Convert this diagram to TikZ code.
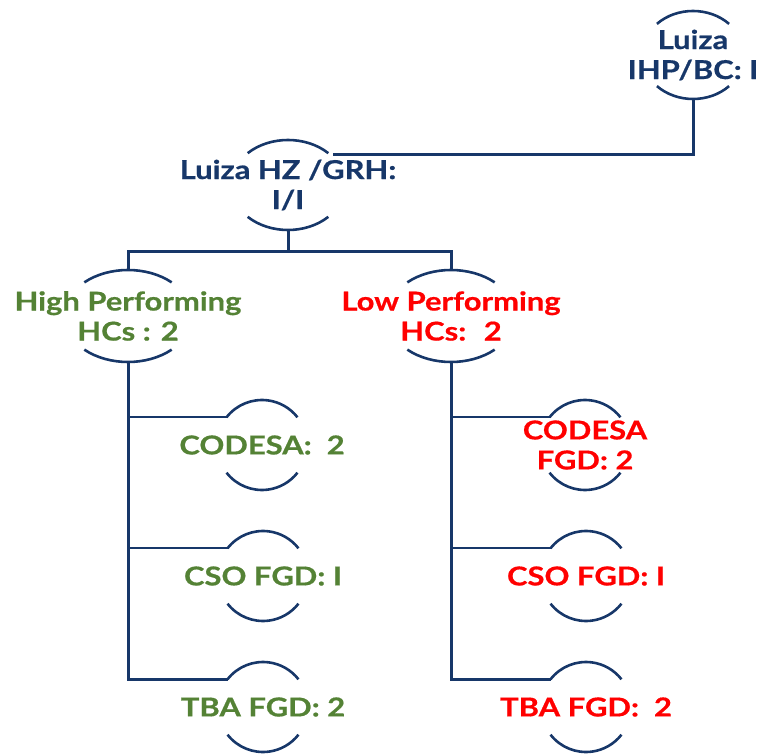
\documentclass[tikz,border=0pt]{standalone}
\usepackage{fontspec}
\setmainfont{Lato}[BoldFeatures={FakeStretch=1.19, FakeBold=0.6}]
\usetikzlibrary{positioning}
\usetikzlibrary{calc}
\definecolor{navy}{RGB}{23,55,105}
\definecolor{hpgreen}{RGB}{84,130,53}
\definecolor{lpred}{RGB}{255,0,0}
% arcs above and below a node: name, x radius, y radius, angle
\newcommand{\orgarcs}[4]{%
    \draw[arcline] ([shift={(180-#4:#2pt and #3pt)}]#1.center) coordinate (#1-tl)
        arc[start angle=180-#4, end angle=#4, x radius=#2pt, y radius=#3pt];
    \draw[arcline] ([shift={(180+#4:#2pt and #3pt)}]#1.center)
        arc[start angle=180+#4, end angle=360-#4, x radius=#2pt, y radius=#3pt];
    \coordinate (#1-top) at ([yshift=#3pt]#1.center);
    \coordinate (#1-bot) at ([yshift=-#3pt]#1.center);
}
\tikzset{
    arcline/.style={draw=navy, line width=2.6pt},
    link/.style={draw=navy, line width=3pt},
    branch/.style={draw=navy, line width=2.2pt},
    box/.style={align=center, inner sep=0pt, font=\bfseries\fontsize{26}{30}\selectfont},
}

\begin{document}
\begin{tikzpicture}[x=1pt, y=1pt]
    \useasboundingbox (0,0) rectangle (757,753);

    % top of the chart
    \node[box, text=navy] (ihp) at (693,698) {Luiza\\IHP/BC: I};
    \orgarcs{ihp}{51}{44}{45}
    \node[box, text=navy] (hz) at (288,568) {Luiza HZ /GRH:\\I/I};
    \orgarcs{hz}{57}{45}{45}
    \coordinate (hzright) at (333,598);

    % second level
    \node[box, text=hpgreen] (high) at (128,437) {High Performing\\HCs : 2};
    \orgarcs{high}{64}{46}{47}
    \node[box, text=lpred] (low) at (451,437) {Low Performing\\HCs:~ 2};
    \orgarcs{low}{64}{46}{47}

    % focus groups, high performing
    \node[box, text=hpgreen] (hcodesa) at (262,308) {CODESA:~ 2};
    \orgarcs{hcodesa}{45}{45}{38}
    \node[box, text=hpgreen] (hcso) at (263,177) {CSO FGD: I};
    \orgarcs{hcso}{45}{45}{38}
    \node[box, text=hpgreen] (htba) at (263,46) {TBA FGD: 2};
    \orgarcs{htba}{45}{45}{38}

    % focus groups, low performing
    \node[box, text=lpred] (lcodesa) at (585,308) {CODESA\\FGD: 2};
    \orgarcs{lcodesa}{45}{45}{38}
    \node[box, text=lpred] (lcso) at (586,177) {CSO FGD: I};
    \orgarcs{lcso}{45}{45}{38}
    \node[box, text=lpred] (ltba) at (586,46) {TBA FGD:~ 2};
    \orgarcs{ltba}{45}{45}{38}

    % connectors
    \draw[link] (ihp-bot) |- (hzright);
    \draw[link] (hz-bot) -- ++(0,-22) coordinate (split);
    \draw[link] (high-top) |- (split) -| (low-top);

    \draw[link] (high-bot) |- (htba-tl);
    \draw[branch] (high-bot |- hcodesa-tl) -- (hcodesa-tl);
    \draw[branch] (high-bot |- hcso-tl) -- (hcso-tl);

    \draw[link] (low-bot) |- (ltba-tl);
    \draw[branch] (low-bot |- lcodesa-tl) -- (lcodesa-tl);
    \draw[branch] (low-bot |- lcso-tl) -- (lcso-tl);
\end{tikzpicture}
\end{document}
